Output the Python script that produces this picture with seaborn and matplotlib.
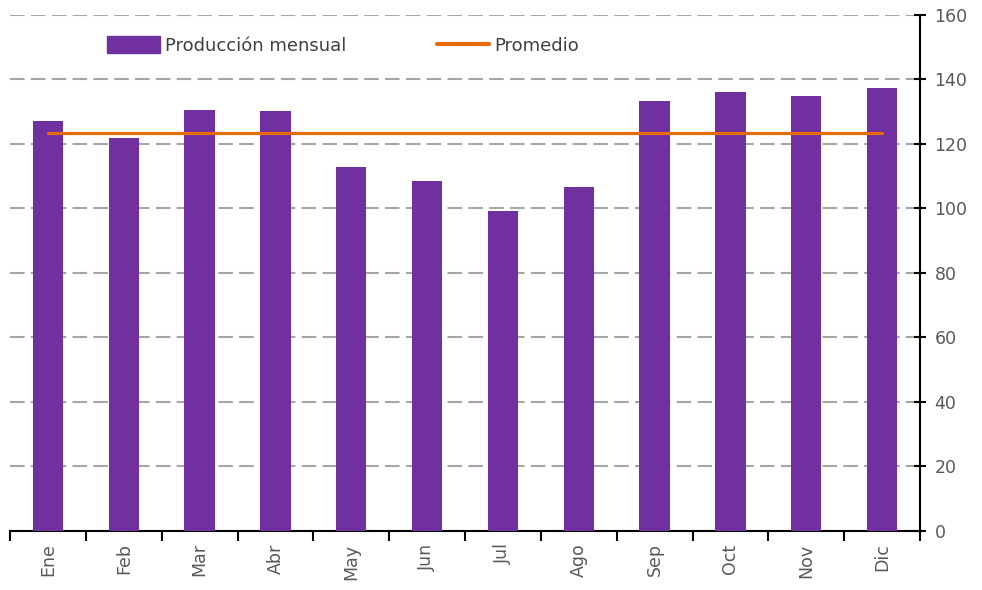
import numpy as np
import seaborn as sns
import matplotlib.pyplot as plt
from matplotlib.ticker import FixedLocator
from matplotlib.patches import Patch
from matplotlib.lines import Line2D

# monthly production values
meses = ['Ene', 'Feb', 'Mar', 'Abr', 'May', 'Jun', 'Jul', 'Ago', 'Sep', 'Oct', 'Nov', 'Dic']
produccion = [127.0, 122.0, 130.5, 130.2, 112.9, 108.6, 99.3, 106.8, 133.2, 136.2, 135.0, 137.4]
y_ticks = [0, 20, 40, 60, 80, 100, 120, 140, 160]

bar_color = '#7030A0'
line_color = '#E46C0A'
text_color = '#595959'

promedio = [float(np.mean(produccion))] * len(meses)

sns.set_style('white')
fig = plt.figure(figsize=(9.82, 5.9), dpi=100)
ax = fig.add_axes([0.0102, 0.1, 0.9267, 0.8746])

sns.barplot(x=meses, y=produccion, color=bar_color, width=0.4, saturation=1,
            linewidth=0, ax=ax, zorder=3)
sns.lineplot(x=np.arange(len(meses)), y=promedio, color=line_color, linewidth=2.3, ax=ax, zorder=4)

ax.set_xlim(-0.5, len(meses) - 0.5)
ax.set_ylim(0, 160)
ax.set_xlabel('')
ax.set_ylabel('')

# y axis on the right
ax.yaxis.tick_right()
ax.set_yticks(y_ticks)
ax.tick_params(axis='y', direction='inout', length=9, width=1.5, colors='black',
               labelcolor=text_color, labelsize=12.5, pad=6)
ax.grid(axis='y', color='#A6A6A6', linestyle=(0, (7, 3)), linewidth=1.5, zorder=0)

# x axis: labels at centers, tick marks at category boundaries
ax.set_xticks(range(len(meses)))
ax.set_xticklabels(meses, rotation=90)
ax.tick_params(axis='x', which='major', bottom=True, length=0, labelcolor=text_color,
               labelsize=12.5, pad=9)
ax.xaxis.set_minor_locator(FixedLocator(np.arange(-0.5, len(meses), 1.0)))
ax.tick_params(axis='x', which='minor', bottom=True, direction='out', length=7, width=1.5,
               color='black')

for side in ['left', 'top']:
    ax.spines[side].set_visible(False)
for side in ['right', 'bottom']:
    ax.spines[side].set_color('black')
    ax.spines[side].set_linewidth(1.5)

handles = [Patch(color=bar_color, label='Producción mensual'),
           Line2D([0], [0], color=line_color, linewidth=3, label='Promedio')]
leg = ax.legend(handles=handles, loc='upper left', bbox_to_anchor=(0.089, 0.99), ncol=2,
                frameon=False, fontsize=13, handlelength=2.9, handleheight=1.0,
                handletextpad=0.3, columnspacing=5.0)
for t in leg.get_texts():
    t.set_color('#404040')

fig.savefig('out.png', dpi=100)
